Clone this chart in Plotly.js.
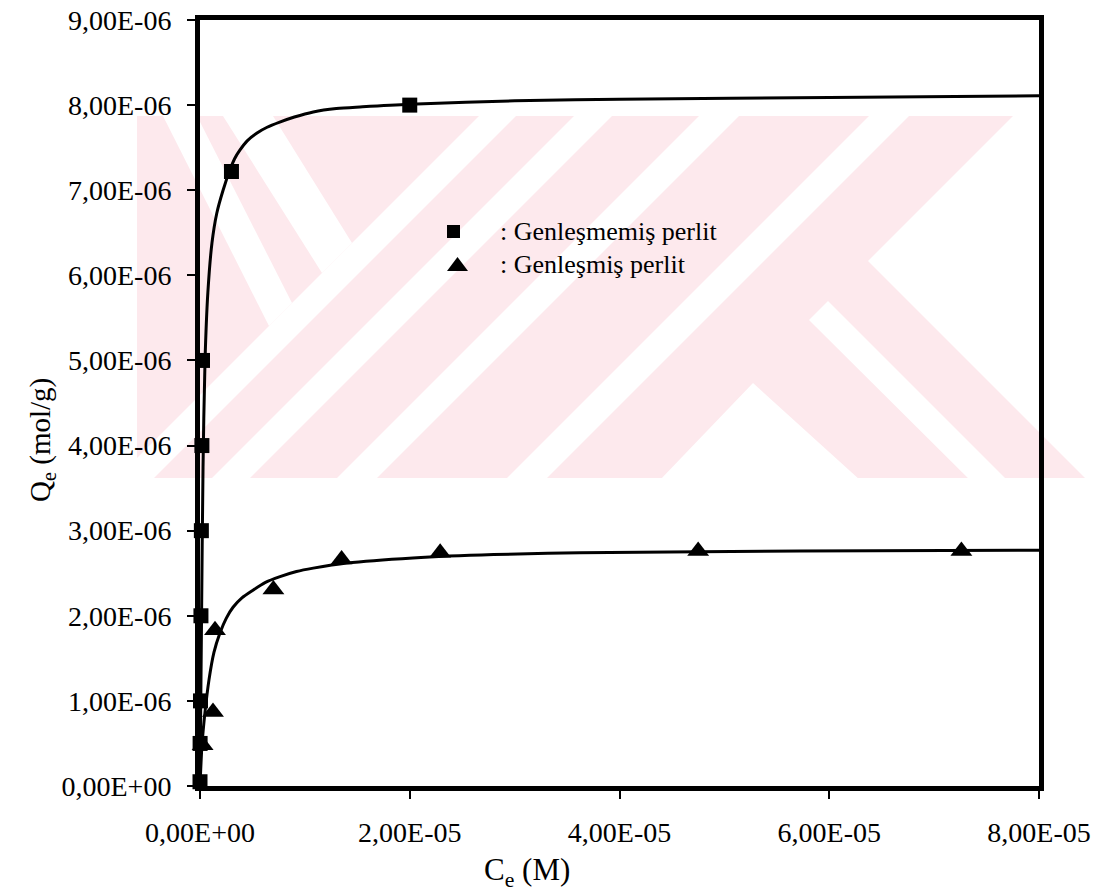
<!DOCTYPE html>
<html><head><meta charset="utf-8">
<script src="https://cdn.plot.ly/plotly-3.0.1.min.js"></script>
<style>html,body{margin:0;padding:0;background:#fff}#chart{width:1095px;height:892px}</style>
</head><body><div id="chart"></div>
<script>
// ---- data ----
// Genleşmemiş perlit (squares)
const sqX = [0, 1.0e-8, 5.0e-8, 9.0e-8, 1.3e-7, 1.8e-7, 2.4e-7, 3.0e-6, 2.0e-5];
const sqY = [5.0e-8, 5.0e-7, 1.0e-6, 2.0e-6, 3.0e-6, 4.0e-6, 5.0e-6, 7.22e-6, 8.0e-6];
// Genleşmiş perlit (triangles)
const trX = [2.5e-7, 1.24e-6, 1.43e-6, 7.0e-6, 1.35e-5, 2.29e-5, 4.75e-5, 7.26e-5];
const trY = [4.8e-7, 8.7e-7, 1.83e-6, 2.31e-6, 2.66e-6, 2.74e-6, 2.76e-6, 2.76e-6];
// fitted curves
const sqFitX = [0, 1.5e-7, 2.9e-7, 4.8e-7, 7.5e-7, 1.14e-6, 1.6e-6, 2.2e-6, 2.86e-6, 3.3e-6, 3.8e-6, 4.5e-6, 5.4e-6, 6.4e-6, 7.6e-6, 9.0e-6, 1.08e-5, 1.3e-5, 1.55e-5, 2.0e-5, 3.0e-5, 4.0e-5, 6.0e-5, 8.0e-5];
const sqFitY = [0, 2.0e-6, 3.75e-6, 5.0e-6, 5.8e-6, 6.38e-6, 6.73e-6, 7.0e-6, 7.24e-6, 7.37e-6, 7.47e-6, 7.58e-6, 7.67e-6, 7.74e-6, 7.80e-6, 7.86e-6, 7.92e-6, 7.96e-6, 7.98e-6, 8.01e-6, 8.05e-6, 8.07e-6, 8.09e-6, 8.11e-6];
const trFitX = [0, 1.9e-7, 4.8e-7, 8.6e-7, 1.33e-6, 1.91e-6, 2.5e-6, 3.15e-6, 4.0e-6, 5.05e-6, 6.2e-6, 7.63e-6, 9.2e-6, 1.08e-5, 1.40e-5, 2.03e-5, 2.8e-5, 3.62e-5, 5.72e-5, 8.0e-5];
const trFitY = [0, 4.8e-7, 8.7e-7, 1.25e-6, 1.57e-6, 1.80e-6, 1.97e-6, 2.10e-6, 2.21e-6, 2.30e-6, 2.39e-6, 2.46e-6, 2.52e-6, 2.56e-6, 2.62e-6, 2.68e-6, 2.72e-6, 2.74e-6, 2.76e-6, 2.77e-6];
// axis ticks
const xTickVals = [0, 2e-5, 4e-5, 6e-5, 8e-5];
const xTickText = ["0,00E+00", "2,00E-05", "4,00E-05", "6,00E-05", "8,00E-05"];
const yTickVals = [0, 1e-6, 2e-6, 3e-6, 4e-6, 5e-6, 6e-6, 7e-6, 8e-6, 9e-6];
const yTickText = ["0,00E+00", "1,00E-06", "2,00E-06", "3,00E-06", "4,00E-06", "5,00E-06", "6,00E-06", "7,00E-06", "8,00E-06", "9,00E-06"];
const seriesNames = ["Genleşmemiş perlit", "Genleşmiş perlit"];

// ---- layout geometry (pixels) ----
const L = 200, R = 56, T = 20, Bm = 106, Wd = 1095, Ht = 892;
const PW = Wd - L - R, PH = Ht - T - Bm, BOT = Ht - Bm;
function P(x, y) { return [((x - L) / PW).toFixed(5), ((BOT - y) / PH).toFixed(5)]; }
function path(pts) { return 'M ' + pts.map(p => P(p[0], p[1]).join(',')).join(' L ') + ' Z'; }

// background watermark (decoration)
const pink = '#fde9ed';
const wmRect = [[137,116],[1090,116],[1090,478],[137,478]];
const wmWhite = [
  [[479,116],[516,116],[154,478],[117,478]],
  [[574,116],[612,116],[250,478],[212,478]],
  [[699,116],[739,116],[377,478],[337,478]],
  [[869,116],[909,116],[547,478],[507,478]],
  [[223,116],[273,116],[352,243],[322,273]],
  [[163,116],[197,116],[292,303],[269,326]],
  [[868,261],[1013,116],[1100,116],[1100,493]],
  [[828,301],[1027,500],[990,500],[809,320]],
  [[753,383],[660,480],[860,480]]
];
const shapes = [];
shapes.push({type:'path', xref:'paper', yref:'paper', path: path(wmRect), fillcolor: pink, line:{width:0}, layer:'below'});
wmWhite.forEach(p => shapes.push({type:'path', xref:'paper', yref:'paper', path: path(p), fillcolor:'#ffffff', line:{width:0}, layer:'below'}));
// legend symbols
shapes.push({type:'path', xref:'paper', yref:'paper', path: path([[447,225],[460,225],[460,238],[447,238]]), fillcolor:'#000', line:{width:0}, layer:'above'});
shapes.push({type:'path', xref:'paper', yref:'paper', path: path([[447,271],[468,271],[457.5,257]]), fillcolor:'#000', line:{width:0}, layer:'above'});

const serif = 'Liberation Serif';
const traces = [
  {x: sqFitX, y: sqFitY, mode:'lines', line:{color:'#000', width:3, shape:'spline', smoothing:0.8}, hoverinfo:'skip', showlegend:false},
  {x: trFitX, y: trFitY, mode:'lines', line:{color:'#000', width:3, shape:'spline', smoothing:0.8}, hoverinfo:'skip', showlegend:false},
  {x: sqX, y: sqY, name: seriesNames[0], mode:'markers', marker:{symbol:'square', size:15, color:'#000'}, cliponaxis:false, showlegend:false},
  {x: trX, y: trY, name: seriesNames[1], mode:'markers', marker:{symbol:'triangle-up', size:19, color:'#000'}, cliponaxis:false, showlegend:false}
];

const lx = P(498, 0)[0];
const annotations = [
  {xref:'paper', yref:'paper', x: lx, y: P(0,232)[1], xanchor:'left', yanchor:'middle', showarrow:false, text: ': ' + seriesNames[0], font:{family:serif, size:26, color:'#000'}},
  {xref:'paper', yref:'paper', x: lx, y: P(0,264)[1], xanchor:'left', yanchor:'middle', showarrow:false, text: ': ' + seriesNames[1], font:{family:serif, size:26, color:'#000'}},
  {xref:'paper', yref:'paper', x: P(527,0)[0], y: P(0,872)[1], xanchor:'center', yanchor:'middle', showarrow:false, text: 'C<sub>e</sub> (M)', font:{family:serif, size:31, color:'#000'}},
  {xref:'paper', yref:'paper', x: P(42,0)[0], y: P(0,440)[1], xanchor:'center', yanchor:'middle', showarrow:false, textangle:-90, text: 'Q<sub>e</sub> (mol/g)', font:{family:serif, size:29, color:'#000'}}
];

const axisCommon = {showgrid:false, zeroline:false, showline:true, linecolor:'#000', linewidth:5, mirror:true,
  ticks:'outside', ticklen:8, tickwidth:2, tickcolor:'#000', tickfont:{family:serif, size:28, color:'#000'}, tickmode:'array'};

const layout = {
  width: Wd, height: Ht,
  font: {family: serif, color:'#000'},
  margin: {l:L, r:R, t:T, b:Bm, pad:0},
  paper_bgcolor:'#ffffff', plot_bgcolor:'rgba(0,0,0,0)',
  showlegend:false,
  xaxis: Object.assign({}, axisCommon, {range:[0, 8e-5], tickvals:xTickVals, ticktext:xTickText, ticklabelstandoff:9}),
  yaxis: Object.assign({}, axisCommon, {range:[0, 9e-6], tickvals:yTickVals, ticktext:yTickText, ticklabelstandoff:10}),
  shapes: shapes,
  annotations: annotations
};
Plotly.newPlot('chart', traces, layout, {displayModeBar:false, staticPlot:true});
</script>
</body></html>
